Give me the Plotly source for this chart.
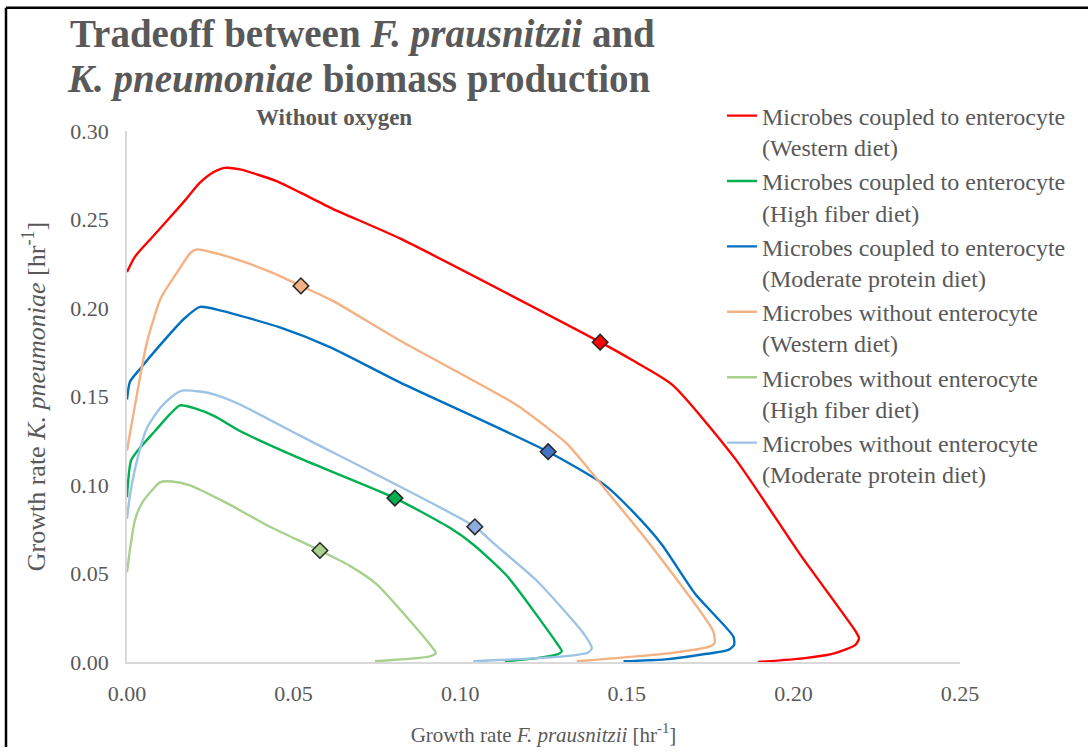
import plotly.graph_objects as go

# Growth-rate tradeoff curves (x: F. prausnitzii, y: K. pneumoniae), hr^-1
cw_x = [0.0, 0.0024, 0.0079, 0.0169, 0.0219, 0.0259, 0.0294, 0.0339, 0.0449, 0.0519, 0.0619, 0.0819,
        0.142, 0.1516, 0.1636, 0.1825, 0.202, 0.2185, 0.2197, 0.2185, 0.2125, 0.2035, 0.1894]
cw_y = [0.2203, 0.2290, 0.2407, 0.2597, 0.2708, 0.2767, 0.2792, 0.2783, 0.2717, 0.2653, 0.2559, 0.2393,
        0.1807, 0.1706, 0.1567, 0.1149, 0.0608, 0.0178, 0.0134, 0.0095, 0.0050, 0.0022, 0.0]

ch_x = [0.0, 0.0012, 0.0039, 0.0084, 0.0129, 0.0159, 0.0204, 0.0264, 0.0339, 0.0519, 0.0804,
        0.0969, 0.1039, 0.114, 0.129, 0.1305, 0.1294, 0.123, 0.1134]
ch_y = [0.0931, 0.1138, 0.1210, 0.1305, 0.1400, 0.1450, 0.1433, 0.1388, 0.1305, 0.1150, 0.0926,
        0.0758, 0.0664, 0.0487, 0.0106, 0.0060, 0.0045, 0.0022, 0.0004]

cm_x = [0.0, 0.0009, 0.0039, 0.0094, 0.0169, 0.0219, 0.0279, 0.0459, 0.0609, 0.0819, 0.1264,
        0.1435, 0.1519, 0.1605, 0.1705, 0.182, 0.1822, 0.1805, 0.172, 0.1615, 0.149]
cm_y = [0.1483, 0.1584, 0.1656, 0.1779, 0.1935, 0.2006, 0.1987, 0.1890, 0.1779, 0.1580, 0.1188,
        0.0998, 0.0848, 0.0664, 0.0385, 0.0143, 0.0096, 0.0069, 0.0041, 0.0015, 0.0004]

ww_x = [0.0, 0.0018, 0.0060, 0.0102, 0.0159, 0.0189, 0.0209, 0.0249, 0.0349, 0.0439, 0.0522, 0.0619,
        0.0819, 0.1167, 0.1255, 0.1321, 0.145, 0.157, 0.176, 0.1763, 0.175, 0.163, 0.135]
ww_y = [0.1193, 0.1388, 0.1807, 0.2058, 0.2225, 0.2309, 0.2331, 0.2318, 0.2262, 0.2197, 0.2125, 0.2039,
        0.1816, 0.1455, 0.1333, 0.1232, 0.0942, 0.0664, 0.0171, 0.0106, 0.0088, 0.0050, 0.0004]

wh_x = [0.0, 0.0009, 0.0024, 0.0045, 0.0075, 0.0099, 0.0135, 0.0189, 0.0294, 0.0429, 0.0579,
        0.0669, 0.0749, 0.0914, 0.0927, 0.0909, 0.0744]
wh_y = [0.0507, 0.0636, 0.0803, 0.0898, 0.0970, 0.1015, 0.1020, 0.0998, 0.0903, 0.0764, 0.0630,
        0.0543, 0.0440, 0.0088, 0.0050, 0.0032, 0.0004]

wm_x = [0.0, 0.0009, 0.0030, 0.0060, 0.0099, 0.0135, 0.0165, 0.0219, 0.0264, 0.0339, 0.0519,
        0.1044, 0.1104, 0.123, 0.137, 0.1395, 0.1384, 0.131, 0.1039]
wm_y = [0.0809, 0.0942, 0.1138, 0.1322, 0.1433, 0.1500, 0.1533, 0.1528, 0.1511, 0.1455, 0.1279,
        0.0764, 0.0664, 0.0459, 0.0162, 0.0078, 0.0054, 0.0032, 0.0004]

# Highlighted operating points on each curve
pt_x = [0.142, 0.0804, 0.1264, 0.0522, 0.0579, 0.1044]
pt_y = [0.1807, 0.0926, 0.1188, 0.2125, 0.0630, 0.0764]

names = [
    "Microbes coupled to enterocyte<br>(Western diet)",
    "Microbes coupled to enterocyte<br>(High fiber diet)",
    "Microbes coupled to enterocyte<br>(Moderate protein diet)",
    "Microbes without enterocyte<br>(Western diet)",
    "Microbes without enterocyte<br>(High fiber diet)",
    "Microbes without enterocyte<br>(Moderate protein diet)",
]
line_colors = ["#FF0000", "#00B050", "#0070C0", "#F4B183", "#A9D18E", "#9DC3E6"]
marker_colors = ["#FF0000", "#00B050", "#4472C4", "#F4B183", "#A9D18E", "#8FAADC"]

curves = [(cw_x, cw_y), (ch_x, ch_y), (cm_x, cm_y), (ww_x, ww_y), (wh_x, wh_y), (wm_x, wm_y)]

FONT = "Liberation Serif"
GRAY = "#595959"

W, H = 1088, 755
ML, MR, MT, MB = 127, 128, 131, 86
PW, PH = W - ML - MR, H - MT - MB


def px(x):
    return (x - ML) / PW


def py(y):
    return (H - MB - y) / PH


fig = go.Figure()
for i, (xs, ys) in enumerate(curves):
    fig.add_trace(go.Scatter(
        x=xs, y=ys, mode="lines", name=names[i],
        line=dict(color=line_colors[i], width=2.4, shape="spline", smoothing=0.6),
        hoverinfo="x+y",
    ))
for i in range(len(pt_x)):
    fig.add_trace(go.Scatter(
        x=[pt_x[i]], y=[pt_y[i]], mode="markers", showlegend=False,
        marker=dict(symbol="diamond", size=12, color=marker_colors[i],
                    line=dict(color="#262626", width=1.5)),
    ))

fig.update_layout(
    width=W, height=H,
    margin=dict(l=ML, r=MR, t=MT, b=MB, pad=0),
    paper_bgcolor="white", plot_bgcolor="white",
    font=dict(family=FONT, color=GRAY, size=22),
    showlegend=True,
    legend=dict(
        x=px(722), y=py(93), xanchor="left", yanchor="top",
        font=dict(family=FONT, size=24, color=GRAY),
        valign="top", maxheight=700, bgcolor="rgba(0,0,0,0)",
    ),
    xaxis=dict(
        range=[0, 0.25], tickvals=[0, 0.05, 0.10, 0.15, 0.20, 0.25],
        tickformat=".2f", showgrid=False, zeroline=False,
        showline=True, linecolor="#D9D9D9", linewidth=1.5,
        ticks="", ticklabelstandoff=11,
        tickfont=dict(family=FONT, size=22, color=GRAY),
        title=dict(text="Growth rate <i>F. prausnitzii</i> [hr<sup>-1</sup>]",
                   font=dict(family=FONT, size=21, color=GRAY), standoff=22),
    ),
    yaxis=dict(
        range=[0, 0.30], tickvals=[0, 0.05, 0.10, 0.15, 0.20, 0.25, 0.30],
        tickformat=".2f", showgrid=False, zeroline=False,
        showline=True, linecolor="#D9D9D9", linewidth=1.5,
        ticks="", ticklabelstandoff=12,
        tickfont=dict(family=FONT, size=22, color=GRAY),
        title=dict(text="Growth rate <i>K. pneumoniae</i> [hr<sup>-1</sup>]",
                   font=dict(family=FONT, size=26, color=GRAY), standoff=17),
    ),
    annotations=[
        dict(text="<b>Tradeoff between <i>F. prausnitzii</i> and</b>",
             xref="paper", yref="paper", x=px(362), y=py(33), xanchor="center", yanchor="middle",
             showarrow=False, font=dict(family=FONT, size=39, color=GRAY)),
        dict(text="<b><i>K. pneumoniae</i> biomass production</b>",
             xref="paper", yref="paper", x=px(359), y=py(78), xanchor="center", yanchor="middle",
             showarrow=False, font=dict(family=FONT, size=39, color=GRAY)),
        dict(text="<b>Without oxygen</b>", xref="paper", yref="paper",
             x=px(334), y=py(117), xanchor="center", yanchor="middle", showarrow=False,
             font=dict(family=FONT, size=23, color=GRAY)),
    ],
    shapes=[
        dict(type="line", xref="paper", yref="paper", x0=px(6), x1=px(1088), y0=py(6), y1=py(6),
             line=dict(color="black", width=2.5)),
        dict(type="line", xref="paper", yref="paper", x0=px(6), x1=px(6), y0=py(6), y1=py(755),
             line=dict(color="black", width=2.5)),
    ],
)

fig.write_html("out.html")
